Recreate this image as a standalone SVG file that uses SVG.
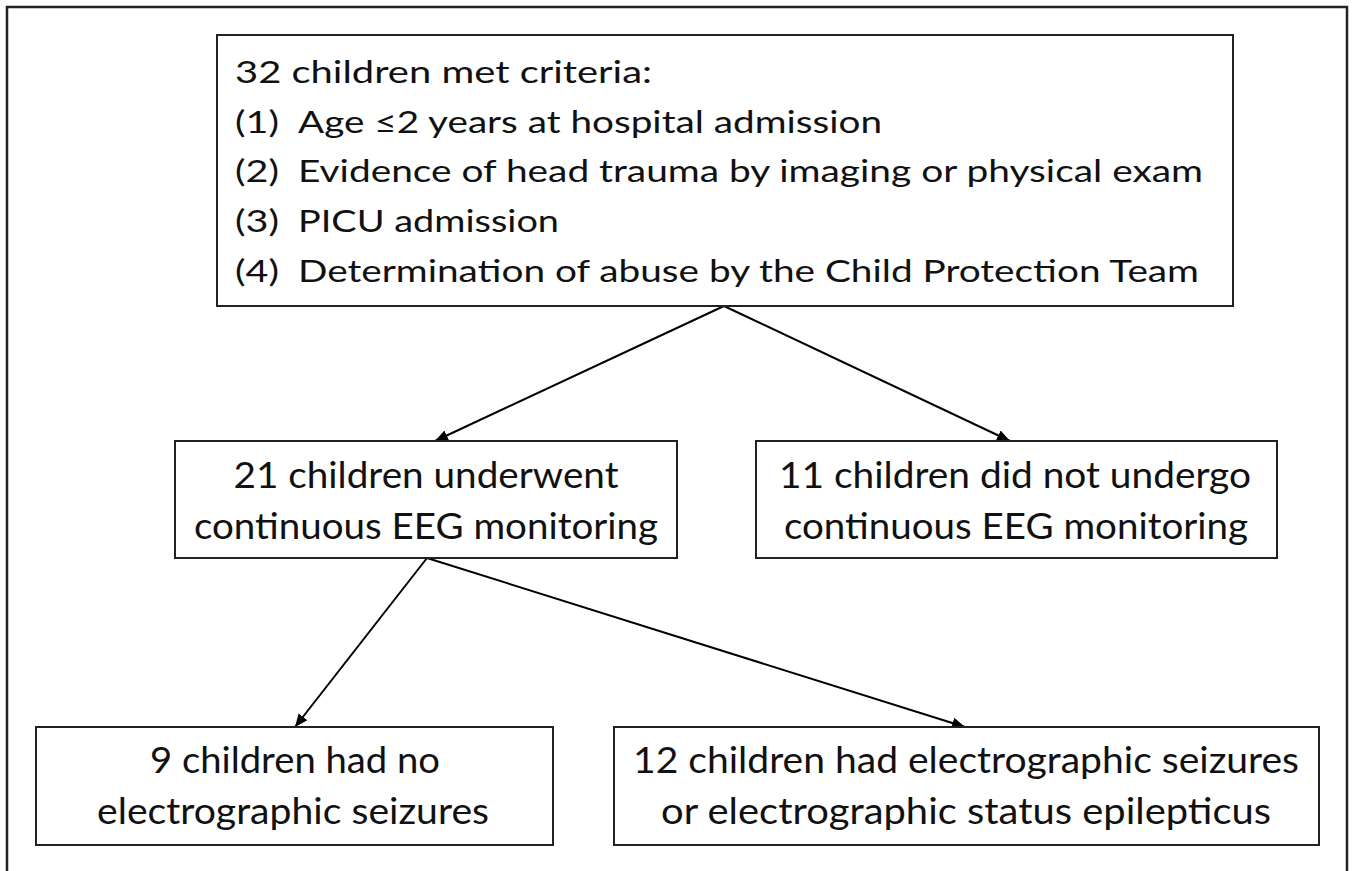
<svg xmlns="http://www.w3.org/2000/svg" width="1352" height="871" viewBox="0 0 1352 871">
<defs>
<marker id="arr" markerUnits="userSpaceOnUse" markerWidth="14" markerHeight="12" refX="13" refY="6" orient="auto">
<path d="M0,0.5 L13,6 L0,11.5 Z" fill="#000"/>
</marker>
<style>
.box{fill:#fff;stroke:#222;stroke-width:2}
.t{font-family:Lato,"Liberation Sans",sans-serif;fill:#111}
.top{font-size:31px}
.mid{font-size:36px;text-anchor:middle}
.con{stroke:#000;stroke-width:2;fill:none;marker-end:url(#arr)}
</style>
</defs>
<rect width="1352" height="871" fill="#fff"/>
<path d="M7,871 V7 H1347 V871" fill="none" stroke="#222" stroke-width="2.5"/>
<g id="connectors">
<line class="con" x1="724" y1="306" x2="435" y2="441"/>
<line class="con" x1="724" y1="306" x2="1010" y2="441"/>
<line class="con" x1="427" y1="558" x2="295" y2="727"/>
<line class="con" x1="427" y1="558" x2="965" y2="727"/>
</g>
<g id="criteria">
<rect class="box" x="217" y="35" width="1016" height="271"/>
<text class="t top" x="235" y="83" textLength="417" lengthAdjust="spacingAndGlyphs">32 children met criteria:</text>
<text class="t top" x="235" y="133" textLength="44" lengthAdjust="spacingAndGlyphs">(1)</text>
<text class="t top" x="298" y="133" textLength="584" lengthAdjust="spacingAndGlyphs">Age ≤2 years at hospital admission</text>
<text class="t top" x="235" y="182" textLength="44" lengthAdjust="spacingAndGlyphs">(2)</text>
<text class="t top" x="298" y="182" textLength="905" lengthAdjust="spacingAndGlyphs">Evidence of head trauma by imaging or physical exam</text>
<text class="t top" x="235" y="232" textLength="44" lengthAdjust="spacingAndGlyphs">(3)</text>
<text class="t top" x="298" y="232" textLength="261" lengthAdjust="spacingAndGlyphs">PICU admission</text>
<text class="t top" x="235" y="282" textLength="44" lengthAdjust="spacingAndGlyphs">(4)</text>
<text class="t top" x="298" y="282" textLength="901" lengthAdjust="spacingAndGlyphs">Determination of abuse by the Child Protection Team</text>
</g>
<g id="eeg">
<rect class="box" x="175" y="441" width="502" height="117"/>
<text class="t mid" x="426" y="488" textLength="385" lengthAdjust="spacingAndGlyphs">21 children underwent</text>
<text class="t mid" x="426" y="539" textLength="464" lengthAdjust="spacingAndGlyphs">continuous EEG monitoring</text>
</g>
<g id="noeeg">
<rect class="box" x="756" y="441" width="521" height="117"/>
<text class="t mid" x="1015" y="488" textLength="472" lengthAdjust="spacingAndGlyphs">11 children did not undergo</text>
<text class="t mid" x="1016" y="539" textLength="464" lengthAdjust="spacingAndGlyphs">continuous EEG monitoring</text>
</g>
<g id="noseizures">
<rect class="box" x="36" y="727" width="517" height="118"/>
<text class="t mid" x="295" y="773" textLength="290" lengthAdjust="spacingAndGlyphs">9 children had no</text>
<text class="t mid" x="293" y="824" textLength="392" lengthAdjust="spacingAndGlyphs">electrographic seizures</text>
</g>
<g id="seizures">
<rect class="box" x="614" y="727" width="705" height="118"/>
<text class="t mid" x="966" y="773" textLength="666" lengthAdjust="spacingAndGlyphs">12 children had electrographic seizures</text>
<text class="t mid" x="966" y="824" textLength="610" lengthAdjust="spacingAndGlyphs">or electrographic status epilepticus</text>
</g>
</svg>
